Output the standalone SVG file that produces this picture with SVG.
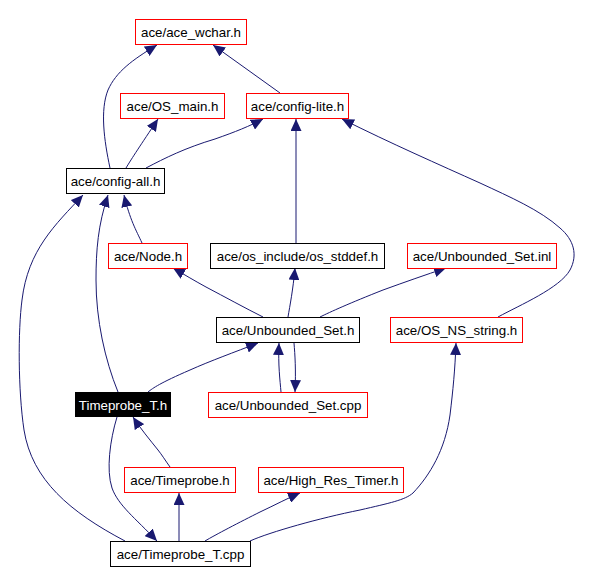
<svg xmlns="http://www.w3.org/2000/svg" width="614" height="584" viewBox="0 0 614 584">
<style>
.n rect{fill:#ffffff;stroke-width:1}
.red rect{stroke:#ff0000}
.blk rect{stroke:#000000}
.cur rect{fill:#000000;stroke:#000000}
text{font-family:"Liberation Sans",Arial,Helvetica,sans-serif;font-size:13.33px;text-anchor:middle;fill:#000000}
.cur text{fill:#ffffff}
.e path{fill:none;stroke:#191970;stroke-width:1;marker-end:url(#ah)}
</style>
<defs>
<marker id="ah" markerUnits="userSpaceOnUse" markerWidth="12" markerHeight="11" viewBox="0 0 12 11" refX="12" refY="5.5" orient="auto">
<path d="M0,0 L12,5.5 L0,11 Z" fill="#191970" stroke="none"/>
</marker>
</defs>
<rect width="614" height="584" fill="#ffffff"/>
<g id="edges" class="e">
<path d="M110,168 C104,140 100,110 108,90 C116,72 132,60 157,45"/>
<path d="M280,93 L213,45"/>
<path d="M126,168 C132,158 140,146 158,119"/>
<path d="M146,168 C165,158 185,148 215,139 C235,132 250,126 263,119"/>
<path d="M296,243 L296,119"/>
<path d="M498,317 C520,305 560,288 570,270 C578,255 574,240 560,228 C540,210 510,197 480,183 C440,165 390,143 342,119"/>
<path d="M142,243 C136,230 130,220 124,195"/>
<path d="M118,392 C105,360 96,320 96,280 C96,250 98,225 108,195"/>
<path d="M125,541 C70,512 32,480 24,430 C18,390 18,330 22,300 C28,250 55,225 83,195"/>
<path d="M263,317 C245,308 225,297 206,287 C195,281 185,275 173,268"/>
<path d="M288,317 C290,305 293,290 295,268"/>
<path d="M320,317 C330,312 350,303 383,290 C405,282 425,275 446,268"/>
<path d="M148,392 C153,388 160,383 190,370 C210,361 235,352 258,343"/>
<path d="M281,392 C280,380 278,365 279,343"/>
<path d="M294,343 C295,355 296,370 295,392"/>
<path d="M170,467 C165,460 162,455 158,450 C150,440 140,428 133,417"/>
<path d="M117,417 C110,440 106,470 112,488 C118,505 135,518 157,541"/>
<path d="M179,541 L179,493"/>
<path d="M205,541 C215,535 240,522 260,512 C275,505 288,498 300,493"/>
<path d="M250,541 C270,532 320,518 360,510 C390,503 405,500 413,493 C430,475 445,450 450,415 C453,390 455,370 456,343"/>
</g>
<g id="n_ace_wchar" class="n red"><rect x="135.5" y="19.5" width="111" height="25"/><text x="191" y="37">ace/ace_wchar.h</text></g>
<g id="n_os_main" class="n red"><rect x="120.5" y="93.5" width="104" height="25"/><text x="172.5" y="111">ace/OS_main.h</text></g>
<g id="n_config_lite" class="n red"><rect x="246.5" y="93.5" width="102" height="25"/><text x="297.5" y="111">ace/config-lite.h</text></g>
<g id="n_config_all" class="n blk"><rect x="66.5" y="168.5" width="98" height="25"/><text x="115.5" y="186">ace/config-all.h</text></g>
<g id="n_node" class="n red"><rect x="108.5" y="243.5" width="79" height="25"/><text x="148" y="261">ace/Node.h</text></g>
<g id="n_os_stddef" class="n blk"><rect x="210.5" y="243.5" width="174" height="25"/><text x="297.5" y="261">ace/os_include/os_stddef.h</text></g>
<g id="n_unbounded_inl" class="n red"><rect x="407.5" y="243.5" width="149" height="25"/><text x="482" y="261">ace/Unbounded_Set.inl</text></g>
<g id="n_unbounded_h" class="n blk"><rect x="216.5" y="317.5" width="143" height="25"/><text x="288" y="335">ace/Unbounded_Set.h</text></g>
<g id="n_os_ns_string" class="n red"><rect x="390.5" y="317.5" width="132" height="25"/><text x="456.5" y="335">ace/OS_NS_string.h</text></g>
<g id="n_timeprobe_t_h" class="n cur"><rect x="75.5" y="392.5" width="95" height="24"/><text x="123" y="410">Timeprobe_T.h</text></g>
<g id="n_unbounded_cpp" class="n red"><rect x="208.5" y="392.5" width="159" height="25"/><text x="288" y="410">ace/Unbounded_Set.cpp</text></g>
<g id="n_timeprobe_h" class="n red"><rect x="124.5" y="467.5" width="111" height="25"/><text x="180" y="485">ace/Timeprobe.h</text></g>
<g id="n_high_res" class="n red"><rect x="258.5" y="467.5" width="145" height="25"/><text x="331" y="485">ace/High_Res_Timer.h</text></g>
<g id="n_timeprobe_t_cpp" class="n blk"><rect x="110.5" y="541.5" width="140" height="25"/><text x="180.5" y="559">ace/Timeprobe_T.cpp</text></g>
</svg>
